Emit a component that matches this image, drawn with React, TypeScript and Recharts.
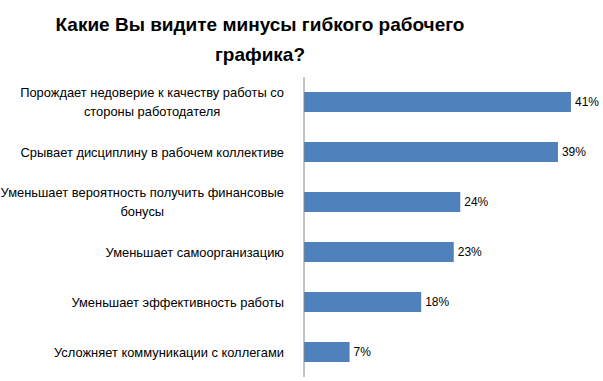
import React from 'react';
import { BarChart, Bar, XAxis, YAxis, LabelList } from 'recharts';

const categories = [
  'Порождает недоверие к качеству работы со|стороны работодателя',
  'Срывает дисциплину в рабочем коллективе',
  'Уменьшает вероятность получить финансовые|бонусы',
  'Уменьшает самоорганизацию',
  'Уменьшает эффективность работы',
  'Усложняет коммуникации с коллегами',
];
const values = [41, 39, 24, 23, 18, 7];
const xTicks = [0, 45];

const data = categories.map((name, i) => ({ name, value: values[i] }));

const FONT = '"Liberation Sans", Arial, sans-serif';
const TICK_SIZE = 12.9;

let ctx: CanvasRenderingContext2D | null = null;
const measure = (s: string) => {
  if (!ctx) ctx = document.createElement('canvas').getContext('2d');
  if (!ctx) return s.length * 6.8;
  ctx.font = `${TICK_SIZE}px ${FONT}`;
  return ctx.measureText(s).width;
};

// wrapped labels: block is right-aligned, lines centred inside it
const CategoryTick = (props: any) => {
  const { x, y, payload } = props;
  const lines: string[] = String(payload.value).split('|');
  const widest = Math.max(...lines.map(measure));
  const cx = x - widest / 2;
  const lh = 19;
  const top = y - ((lines.length - 1) * lh) / 2;
  return (
    <g>
      {lines.map((l, i) => (
        <text
          key={i}
          x={cx}
          y={top + i * lh}
          dy="0.35em"
          textAnchor="middle"
          fontFamily={FONT}
          fontSize={TICK_SIZE}
          fill="#000"
        >
          {l}
        </text>
      ))}
    </g>
  );
};

const App: React.FC = () => {
  return (
    <div style={{ position: 'absolute', left: 0, top: 0, width: 603, height: 381, background: '#fff' }}>
      <div
        style={{
          position: 'absolute',
          left: 0,
          width: 520,
          top: 10,
          textAlign: 'center',
          fontFamily: FONT,
          fontWeight: 'bold',
          fontSize: 19,
          lineHeight: '30px',
          color: '#000',
        }}
      >
        Какие Вы видите минусы гибкого рабочего
        <br />
        графика?
      </div>
      <BarChart
        width={603}
        height={381}
        data={data}
        layout="vertical"
        margin={{ top: 77, right: 6, bottom: 4, left: 0 }}
        barCategoryGap="30%"
      >
        <XAxis type="number" domain={[0, 45]} ticks={xTicks} hide />
        <YAxis
          type="category"
          dataKey="name"
          width={304}
          axisLine={{ stroke: '#868686', strokeWidth: 1 }}
          tickLine={false}
          tickMargin={14}
          tick={<CategoryTick />}
          interval={0}
        />
        <Bar dataKey="value" fill="#4F81BD" isAnimationActive={false}>
          <LabelList
            dataKey="value"
            position="right"
            offset={4}
            formatter={(v: any) => `${v}%`}
            style={{ fontFamily: FONT, fontSize: 12, fill: '#000' }}
          />
        </Bar>
      </BarChart>
    </div>
  );
};

export default App;
